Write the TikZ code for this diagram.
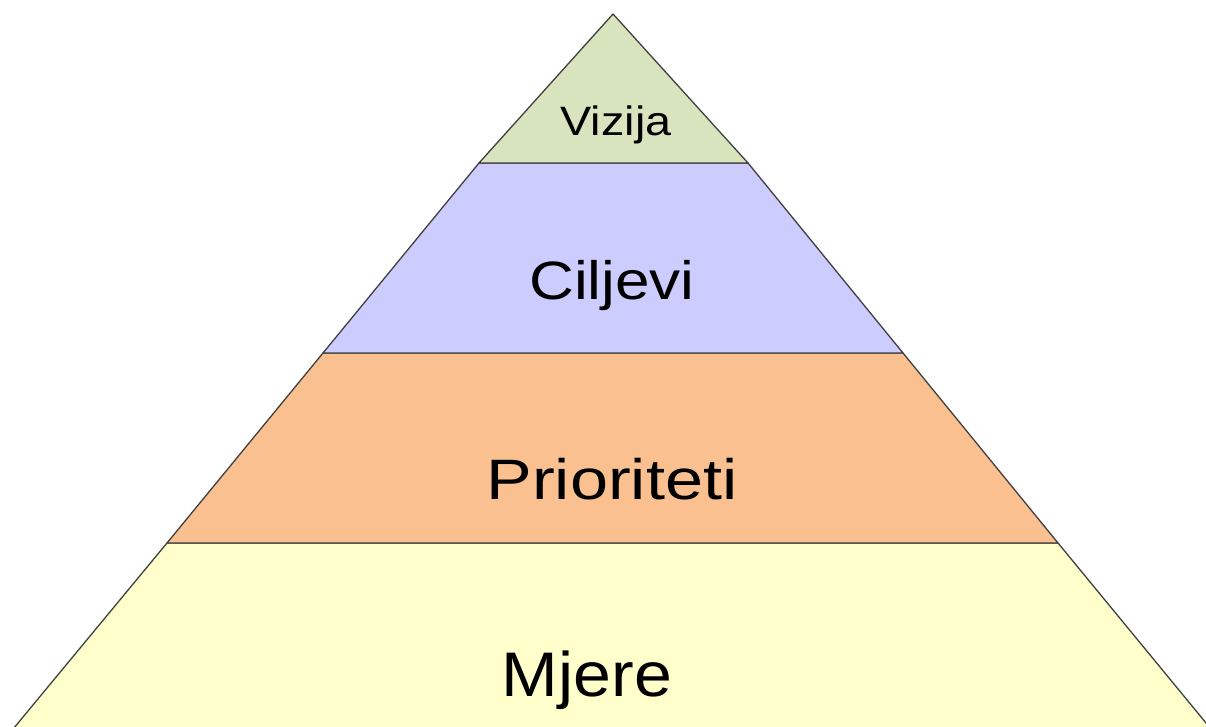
\documentclass[tikz,border=0pt]{standalone}
\usepackage{fontspec}
\setmainfont{Liberation Sans}
\definecolor{vizijagreen}{HTML}{D7E4BD}
\definecolor{ciljeviblue}{HTML}{CCCCFF}
\definecolor{prioritetiorange}{HTML}{FAC090}
\definecolor{mjereyellow}{HTML}{FFFFCC}
\tikzset{
  band/.style={draw=black!75, line width=1.3pt, line join=round},
  label/.style={anchor=base, inner sep=0pt, text=black}
}
\begin{document}
\begin{tikzpicture}[x=1pt,y=-1pt]
      \clip (0,0) rectangle (1206,727);
      \begin{scope}[band]
        \draw[fill=mjereyellow] (167,543) -- (4,740) -- (1220,740) -- (1058,543) -- cycle;
        \draw[fill=prioritetiorange] (323,353) -- (167,543) -- (1058,543) -- (903,353) -- cycle;
        \draw[fill=ciljeviblue] (479,163) -- (323,353) -- (903,353) -- (748,163) -- cycle;
        \draw[fill=vizijagreen] (613,14) -- (479,163) -- (748,163) -- cycle;
      \end{scope}
      \node[label, xscale=1.14, font=\fontsize{41}{48}\selectfont] (vizija) at (616,136) {Vizija};
      \node[label, xscale=1.15, font=\fontsize{54}{64}\selectfont] (ciljevi) at (612,299) {Ciljevi};
      \node[label, xscale=1.2, font=\fontsize{57}{68}\selectfont] (prioriteti) at (612,499) {Prioriteti};
      \node[label, xscale=1.08, font=\fontsize{63}{74}\selectfont] (mjere) at (587,696) {Mjere};
    \end{tikzpicture}
\end{document}
